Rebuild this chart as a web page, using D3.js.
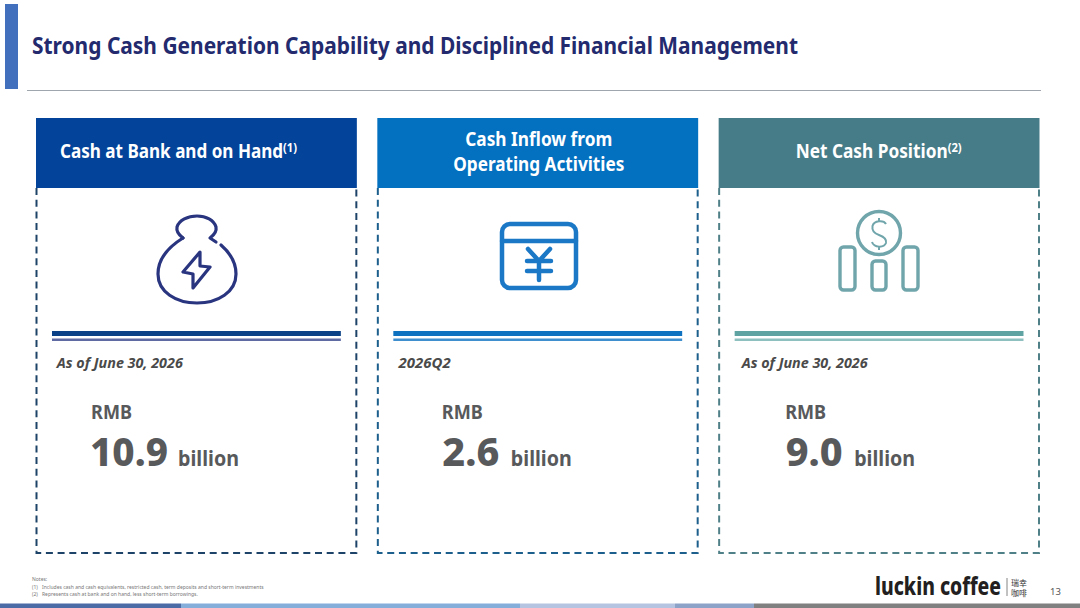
<!DOCTYPE html>
<html lang="en">
<head>
<meta charset="utf-8"/>
<title>Strong Cash Generation</title>
<script src="https://d3js.org/d3.v7.min.js"></script>
<style>
body { margin: 0; background: #fff; }
text { font-family: "Noto Sans", sans-serif; }
</style>
</head>
<body>
<script>
// chart data
var categories = ["Cash at Bank and on Hand", "Cash Inflow from|Operating Activities", "Net Cash Position"];
var footRefs = ["(1)", "", "(2)"];
var periods = ["As of June 30, 2026", "2026Q2", "As of June 30, 2026"];
var values = ["10.9", "2.6", "9.0"];
var headColors = ["#03439a", "#0470c0", "#467c88"];
var iconColors = ["#2a3580", "#1a78c6", "#6fa5ab"];
var rule1 = ["#0b4186", "#0e72c0", "#5fa3a3"];
var rule2 = ["#5f6aa3", "#3f8fcf", "#8fc0c0"];
var dashColors = ["#1d4468", "#1d5f8c", "#4f8088"];
var stripeEnds = [181, 520, 675, 754, 1080];
var stripeColors = ["#4a6ba5", "#85aedb", "#b5c4e0", "#8ea3c8", "#808080"];
var noteRefs = ["", "(1)", "(2)"];
var notes = ["Notes:", "Includes cash and cash equivalents, restricted cash, term deposits and short-term investments",
             "Represents cash at bank and on hand, less short-term borrowings."];

var w = 1080, h = 608;

var svg = d3.select("body").append("svg")
    .attr("width", w)
    .attr("height", h)
    .style("display", "block");

// header
svg.append("rect").attr("x", 5).attr("y", 4).attr("width", 13).attr("height", 85).attr("fill", "#4270bd");
svg.append("text").attr("x", 32).attr("y", 54)
    .attr("font-size", 24).attr("font-weight", 700).attr("fill", "#232a6e")
    .attr("textLength", 766).attr("lengthAdjust", "spacingAndGlyphs")
    .text("Strong Cash Generation Capability and Disciplined Financial Management");
svg.append("line").attr("x1", 27).attr("x2", 1041).attr("y1", 90.5).attr("y2", 90.5)
    .attr("stroke", "#a0a6ad").attr("stroke-width", 1);

// cards
var xScale = d3.scaleBand().domain(d3.range(categories.length)).range([36, 1039.5]).paddingInner(0.06);
var bw = xScale.bandwidth();

var cards = svg.selectAll("g.card").data(categories).enter().append("g")
    .attr("class", "card")
    .attr("transform", function(d, i) { return "translate(" + xScale(i) + ",0)"; });

cards.append("path")
    .attr("d", "M0.5,188V553H" + (bw - 0.5) + "V188")
    .attr("fill", "none")
    .attr("stroke", function(d, i) { return dashColors[i]; })
    .attr("stroke-width", 2)
    .attr("stroke-dasharray", "7,4.7");

cards.append("rect").attr("y", 118).attr("width", bw).attr("height", 70)
    .attr("fill", function(d, i) { return headColors[i]; });

cards.each(function(d, i) {
    var g = d3.select(this);
    var lines = d.split("|");
    if (lines.length > 1) {
        lines.forEach(function(t, k) {
            g.append("text").attr("x", bw / 2 + 1).attr("y", 146 + k * 25)
                .attr("text-anchor", "middle").attr("fill", "#fff")
                .attr("font-size", 20).attr("font-weight", 700)
                .attr("textLength", k == 0 ? 147 : 171).attr("lengthAdjust", "spacingAndGlyphs")
                .text(t);
        });
    } else {
        var tx = i == 0 ? 24 : 77;
        var tl = i == 0 ? 237 : 166;
        var head = g.append("text").attr("x", tx).attr("y", 158)
            .attr("fill", "#fff").attr("font-size", 20).attr("font-weight", 700)
            .attr("textLength", tl).attr("lengthAdjust", "spacingAndGlyphs");
        head.append("tspan").text(d);
        head.append("tspan").attr("dy", -6).attr("font-size", 13).text(footRefs[i]);
    }

    // double rule
    g.append("rect").attr("x", 16).attr("y", 331).attr("width", bw - 32).attr("height", 5).attr("fill", rule1[i]);
    g.append("rect").attr("x", 16).attr("y", 338.5).attr("width", bw - 32).attr("height", 2.5).attr("fill", rule2[i]);

    // period
    var px = i == 0 ? 20.8 : (i == 1 ? 21.3 : 23);
    g.append("text").attr("x", px).attr("y", 368)
        .attr("fill", "#4a4a4a").attr("font-size", 13.5).attr("font-weight", 700).attr("font-style", "italic")
        .attr("textLength", i == 1 ? 52 : 126).attr("lengthAdjust", "spacingAndGlyphs")
        .text(periods[i]);

    // value
    var vx = i == 0 ? 55 : (i == 1 ? 64.5 : 66.5);
    g.append("text").attr("x", vx).attr("y", 419)
        .attr("fill", "#58595b").attr("font-size", 19).attr("font-weight", 700)
        .attr("textLength", 41).attr("lengthAdjust", "spacingAndGlyphs").text("RMB");
    var vw = i == 0 ? 78 : 57;
    var vs = i == 0 ? vx - 1 : vx + 0.5;
    g.append("text").attr("x", vs).attr("y", 466)
        .attr("fill", "#58595b").attr("font-size", 40).attr("font-weight", 800)
        .attr("textLength", vw).attr("lengthAdjust", "spacingAndGlyphs").text(values[i]);
    g.append("text").attr("x", vs + vw + (i == 0 ? 10 : 11.5)).attr("y", 466)
        .attr("fill", "#58595b").attr("font-size", 21).attr("font-weight", 700)
        .attr("textLength", 61).attr("lengthAdjust", "spacingAndGlyphs").text("billion");
});

// icons
var bag = cards.filter(function(d, i) { return i == 0; }).append("g")
    .attr("transform", "translate(" + (130 - xScale(0)) + ",200)")
    .attr("fill", "none").attr("stroke", iconColors[0]).attr("stroke-width", 3.2)
    .attr("stroke-linecap", "round").attr("stroke-linejoin", "round");
bag.append("path").attr("d", "M53,38C40,46 28,58 28,74C28,92 46,103 67,103C88,103 106,92 106,74C106,62 99,52 91,45");
bag.append("path").attr("d", "M86,42L80,38C84,35 87,32 86,27C84,20 76,16 67,16C58,16 49,20 47,27C46,32 49,35 53,38");
bag.append("path").attr("d", "M70,52L53,72L63,74L63,88L80,67L70,66Z");

var cal = cards.filter(function(d, i) { return i == 1; }).append("g")
    .attr("transform", "translate(" + (480 - xScale(1)) + ",200)")
    .attr("fill", "none").attr("stroke", iconColors[1]).attr("stroke-width", 4.5)
    .attr("stroke-linecap", "round").attr("stroke-linejoin", "round");
cal.append("rect").attr("x", 22).attr("y", 24).attr("width", 74).attr("height", 64).attr("rx", 8);
cal.append("line").attr("x1", 22).attr("x2", 96).attr("y1", 41).attr("y2", 41);
cal.append("path").attr("d", "M48,49L59,61L70,49M47,61H71M47,71H71M59,61V80");

var coin = cards.filter(function(d, i) { return i == 2; }).append("g")
    .attr("transform", "translate(" + (820 - xScale(2)) + ",200)")
    .attr("fill", "none").attr("stroke", iconColors[2]).attr("stroke-width", 3.4);
coin.append("circle").attr("cx", 59).attr("cy", 33).attr("r", 21.5);
coin.append("rect").attr("x", 20).attr("y", 47).attr("width", 15).attr("height", 43).attr("rx", 3.5);
coin.append("rect").attr("x", 52).attr("y", 61).attr("width", 14).attr("height", 29).attr("rx", 3.5);
coin.append("rect").attr("x", 83).attr("y", 47).attr("width", 15).attr("height", 43).attr("rx", 3.5);
coin.append("path").attr("stroke-width", 2)
    .attr("d", "M66,24C64,20 54,20 52.5,26C51.5,32 56,34 59,35C63,36.5 67,39 66,43C64,48 54,48 52,42M59,18V21M59,47V50");

// notes
var noteText = svg.append("text").attr("font-size", 5).attr("fill", "#777");
notes.forEach(function(t, i) {
    var y = [581, 588.5, 595.5][i];
    if (noteRefs[i]) {
        noteText.append("tspan").attr("x", 32).attr("y", y).text(noteRefs[i]);
        noteText.append("tspan").attr("x", 42).attr("y", y).text(t);
    } else {
        noteText.append("tspan").attr("x", 32).attr("y", y).text(t);
    }
});

// logo and page number
svg.append("text").attr("x", 875).attr("y", 595)
    .attr("font-size", 24).attr("font-weight", 800).attr("fill", "#231f20")
    .attr("textLength", 126).attr("lengthAdjust", "spacingAndGlyphs").text("luckin coffee");
svg.append("line").attr("x1", 1007).attr("x2", 1007).attr("y1", 578).attr("y2", 596).attr("stroke", "#666").attr("stroke-width", 0.8);
var cjk = svg.append("text").attr("font-size", 8).attr("fill", "#333")
    .style("font-family", '"Noto Sans CJK SC"');
cjk.append("tspan").attr("x", 1011).attr("y", 585.5).text("瑞幸");
cjk.append("tspan").attr("x", 1011).attr("y", 596).text("咖啡");
svg.append("text").attr("x", 1050).attr("y", 595).attr("font-size", 9.5).attr("fill", "#555").text("13");

// bottom stripe
svg.selectAll("rect.stripe").data(stripeEnds).enter().append("rect")
    .attr("class", "stripe")
    .attr("x", function(d, i) { return i ? stripeEnds[i - 1] : 0; })
    .attr("y", 603.5)
    .attr("width", function(d, i) { return d - (i ? stripeEnds[i - 1] : 0); })
    .attr("height", 4.5)
    .attr("fill", function(d, i) { return stripeColors[i]; });
</script>
</body>
</html>
